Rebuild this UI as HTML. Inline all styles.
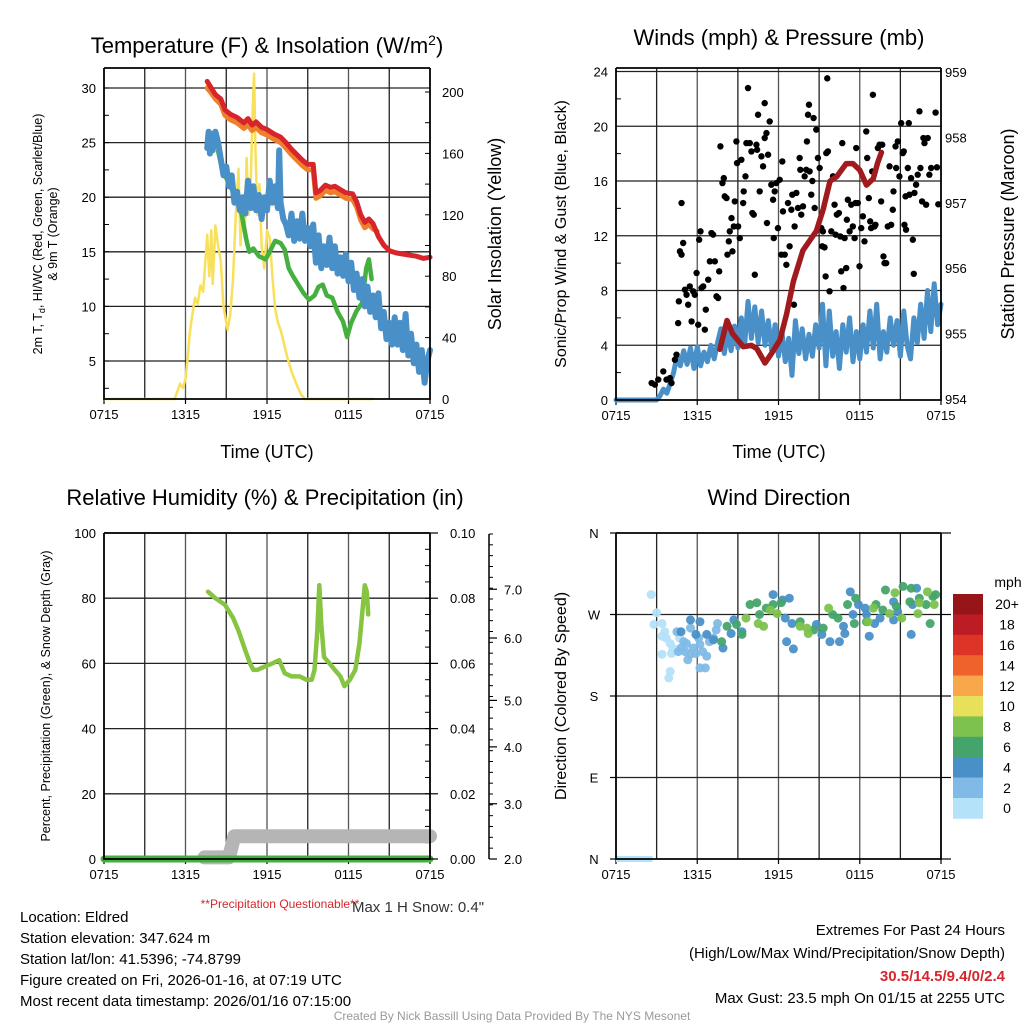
<!DOCTYPE html>
<html><head><meta charset="utf-8"><style>
html,body{margin:0;padding:0;background:#fff;}
svg{display:block;font-family:"Liberation Sans",Arial,sans-serif;}
</style></head><body>
<svg id="chart" width="1024" height="1024" viewBox="0 0 1024 1024" xmlns="http://www.w3.org/2000/svg">
<rect width="1024" height="1024" fill="#fff"/>
<g id="g1"></g>
<g id="g2"></g>
<g id="g3"></g>
<g id="g4"></g>
<g id="gtext">
<text x="267" y="53" font-size="22" text-anchor="middle">Temperature (F) &amp; Insolation (W/m<tspan dy="-8" font-size="14">2</tspan><tspan dy="8">)</tspan></text>
<text x="779" y="45" font-size="22" text-anchor="middle">Winds (mph) &amp; Pressure (mb)</text>
<text x="265" y="505" font-size="22" text-anchor="middle">Relative Humidity (%) &amp; Precipitation (in)</text>
<text x="779" y="505" font-size="22" text-anchor="middle">Wind Direction</text>
<text x="267" y="458" font-size="18" text-anchor="middle">Time (UTC)</text>
<text x="779" y="458" font-size="18" text-anchor="middle">Time (UTC)</text>
<text transform="translate(42,234) rotate(-90)" font-size="12.5" text-anchor="middle">2m T, T<tspan dy="3" font-size="9">d</tspan><tspan dy="-3">, HI/WC (Red, Green, Scarlet/Blue)</tspan></text>
<text transform="translate(57,234) rotate(-90)" font-size="12.5" text-anchor="middle">&amp; 9m T (Orange)</text>
<text transform="translate(501,234) rotate(-90)" font-size="18" text-anchor="middle">Solar Insolation (Yellow)</text>
<text transform="translate(566,234) rotate(-90)" font-size="16" text-anchor="middle">Sonic/Prop Wind &amp; Gust (Blue, Black)</text>
<text transform="translate(1014,234) rotate(-90)" font-size="18" text-anchor="middle">Station Pressure (Maroon)</text>
<text transform="translate(50,696) rotate(-90)" font-size="12.5" text-anchor="middle">Percent, Precipitation (Green), &amp; Snow Depth (Gray)</text>
<text transform="translate(566,696) rotate(-90)" font-size="16" text-anchor="middle">Direction (Colored By Speed)</text>
<text x="280" y="908" font-size="12" fill="#d6262c" text-anchor="middle">**Precipitation Questionable**</text>
<text x="418" y="912" font-size="15" fill="#333" text-anchor="middle">Max 1 H Snow: 0.4"</text>
<text x="20" y="922" font-size="15">Location: Eldred</text>
<text x="20" y="943" font-size="15">Station elevation: 347.624 m</text>
<text x="20" y="964" font-size="15">Station lat/lon: 41.5396; -74.8799</text>
<text x="20" y="985" font-size="15">Figure created on Fri, 2026-01-16, at 07:19 UTC</text>
<text x="20" y="1006" font-size="15">Most recent data timestamp: 2026/01/16 07:15:00</text>
<text x="1005" y="935" font-size="15" text-anchor="end">Extremes For Past 24 Hours</text>
<text x="1005" y="958" font-size="15" text-anchor="end">(High/Low/Max Wind/Precipitation/Snow Depth)</text>
<text x="1005" y="981" font-size="15" font-weight="bold" fill="#d6262c" text-anchor="end">30.5/14.5/9.4/0/2.4</text>
<text x="1005" y="1003" font-size="15" text-anchor="end">Max Gust: 23.5 mph On 01/15 at 2255 UTC</text>
<text x="512" y="1020" font-size="12" fill="#999" text-anchor="middle">Created By Nick Bassill Using Data Provided By The NYS Mesonet</text>
</g>
</svg>
<script>
// ---------- DATA ----------
const timeTicks = ["0715","1315","1915","0115","0715"];
const tempTicks = [5,10,15,20,25,30];
const solarTicks = [0,40,80,120,160,200];
const windTicks = [0,4,8,12,16,20,24];
const presTicks = [954,955,956,957,958,959];
const rhTicks = [0,20,40,60,80,100];
const precipTicks = ["0.00","0.02","0.04","0.06","0.08","0.10"];
const snowTicks = ["2.0","3.0","4.0","5.0","6.0","7.0"];
const snowTickFrac = [0,0.17,0.345,0.488,0.68,0.83];
const dirTicks = ["N","E","S","W","N"];
const speedLabels = ["20+","18","16","14","12","10","8","6","4","2","0"];
const speedColors = ["#951519","#bd1c24","#dc3426","#f0622b","#f8a84a","#e8e05b","#7dc24e","#44a46c","#4a90c8","#7fbbe6","#b4e2f8"];

const tempRed = [[7.6,30.6],[7.8,30.2],[8.2,29.4],[8.6,29.0],[8.9,28.0],[9.3,27.6],[9.8,27.3],[10.3,26.8],[10.6,27.2],[10.9,26.6],[11.2,26.9],[11.6,26.4],[12.0,26.2],[12.5,25.8],[13.0,25.5],[13.4,25.0],[13.8,24.4],[14.2,23.9],[14.6,23.4],[15.0,23.0],[15.4,23.0],[15.6,20.4],[15.9,20.6],[16.3,21.1],[16.7,20.9],[17.0,21.0],[17.4,20.7],[17.8,20.4],[18.3,20.3],[18.6,19.6],[18.9,18.4],[19.2,17.7],[19.5,18.0],[19.8,17.6],[20.2,16.4],[20.6,15.6],[21.0,15.1],[21.5,14.9],[22.0,14.8],[22.5,14.7],[23.0,14.6],[23.5,14.4],[24.0,14.5]];
const tempOrange = [[7.6,30.0],[7.8,29.7],[8.2,29.0],[8.6,28.5],[8.9,27.5],[9.3,27.1],[9.8,26.8],[10.3,26.3],[10.6,26.6],[10.9,26.1],[11.2,26.4],[11.6,25.9],[12.0,25.7],[12.5,25.3],[13.0,25.0],[13.4,24.5],[13.8,23.9],[14.2,23.4],[14.6,22.9],[15.0,22.5],[15.4,22.5],[15.6,19.9],[15.9,20.1],[16.3,20.6],[16.7,20.4],[17.0,20.5],[17.4,20.2],[17.8,19.9],[18.3,19.8],[18.6,19.1],[18.9,17.9],[19.2,17.2],[19.5,17.5],[19.8,17.1],[20.1,16.9]];
const tempBlue = [[7.6,24.5],[7.7,26.0],[7.8,24.0],[7.9,25.8],[8.0,24.3],[8.2,26.0],[8.4,25.0],[8.6,23.5],[8.8,22.0],[9.0,22.8],[9.2,21.0],[9.4,22.0],[9.6,19.5],[9.8,20.5],[10.0,18.8],[10.2,20.0],[10.4,18.5],[10.6,21.5],[10.8,19.0],[11.0,21.0],[11.2,18.8],[11.4,20.2],[11.6,18.0],[11.8,20.0],[12.0,18.8],[12.2,21.5],[12.4,19.5],[12.6,21.0],[12.8,19.0],[12.9,24.3],[13.0,19.5],[13.2,18.0],[13.4,17.5],[13.6,16.5],[13.8,18.5],[14.0,16.0],[14.2,17.8],[14.4,16.2],[14.6,18.5],[14.8,16.0],[15.0,17.2],[15.2,15.5],[15.4,17.5],[15.6,14.0],[15.8,16.5],[16.0,13.5],[16.2,15.5],[16.4,13.8],[16.6,16.3],[16.8,13.5],[17.0,15.5],[17.2,13.0],[17.4,14.5],[17.6,12.8],[17.8,14.8],[18.0,12.3],[18.2,14.0],[18.4,11.5],[18.6,13.0],[18.8,10.8],[19.0,12.5],[19.2,10.0],[19.4,11.8],[19.6,9.5],[19.8,11.0],[20.0,9.0],[20.2,11.2],[20.4,8.0],[20.6,9.5],[20.8,7.0],[21.0,8.5],[21.2,6.5],[21.4,9.0],[21.6,6.5],[21.8,8.5],[22.0,6.0],[22.2,9.3],[22.4,5.5],[22.6,7.5],[22.8,4.8],[23.0,6.5],[23.2,4.0],[23.4,6.0],[23.6,3.0],[23.8,5.0],[24.0,6.0]];
const dewGreen = [[8.4,24.2],[8.7,22.5],[9.1,21.5],[9.5,20.5],[9.9,19.8],[10.2,18.0],[10.5,16.0],[10.7,15.0],[11.0,15.3],[11.4,14.6],[11.9,14.3],[12.2,15.0],[12.6,16.0],[13.0,15.8],[13.3,15.2],[13.6,13.5],[13.9,12.8],[14.3,12.0],[14.7,11.2],[15.1,10.6],[15.5,11.0],[15.8,11.8],[16.1,12.0],[16.4,11.0],[16.8,10.8],[17.2,9.5],[17.6,8.6],[17.9,7.2],[18.2,8.5],[18.6,9.6],[19.0,10.3],[19.3,13.5],[19.5,14.3],[19.7,12.5]];
const solarYellow = [[0,0],[5.2,0],[5.4,5],[5.6,10],[5.8,7],[6.0,13],[6.2,30],[6.3,42],[6.5,55],[6.7,66],[6.9,62],[7.1,74],[7.3,70],[7.6,107],[7.75,80],[7.9,110],[8.0,75],[8.2,113],[8.4,100],[8.6,90],[8.8,60],[9.1,45],[9.3,55],[9.5,78],[9.7,120],[9.9,150],[10.05,100],[10.2,130],[10.35,105],[10.5,157],[10.65,120],[10.8,140],[10.95,190],[11.05,212],[11.15,160],[11.3,120],[11.45,140],[11.6,100],[11.8,85],[12.0,110],[12.2,105],[12.4,80],[12.6,59],[12.8,50],[13.0,45],[13.2,38],[13.5,27],[13.8,18],[14.2,9],[14.5,3],[14.8,0],[19.8,0]];

const windStep = 0.25;
const windSonic = [0,0,0,0,0,0,0,0,0,0,0,0,0,0.3,0.8,0.5,1.2,2.0,3.2,2.5,3.6,2.6,3.8,2.3,3.9,2.5,3.5,2.8,4.0,3.0,4.2,5.2,3.4,5.0,3.6,5.4,3.8,6.0,4.0,7.2,4.5,6.8,4.2,6.5,4.0,5.8,3.6,5.5,3.2,5.0,2.8,4.5,1.8,5.8,3.4,5.2,3.0,4.8,3.2,5.5,3.8,7.0,2.5,6.5,3.2,5.0,2.3,5.5,3.5,6.0,2.8,5.0,3.0,5.5,3.5,6.5,3.8,7.0,3.0,5.0,3.5,6.0,4.0,5.8,3.2,6.5,4.0,3.0,6.0,4.2,7.0,4.5,8.0,5.0,8.5,5.5,7.0];
const pressure = [[7.67,954.76],[8.2,955.2],[8.6,955.0],[9.4,954.8],[10.0,954.82],[10.4,954.77],[11.0,954.55],[11.5,954.7],[12.1,954.9],[12.6,955.3],[13.1,955.8],[13.8,956.27],[14.8,956.57],[15.3,956.9],[15.8,957.33],[16.3,957.4],[17.0,957.6],[17.5,957.6],[18.0,957.5],[18.5,957.27],[19.0,957.37],[19.3,957.6],[19.6,957.77]];
const gustHours = [2.63,2.87,3.12,3.49,3.73,3.98,4.10,4.35,4.47,4.59,4.64,4.72,4.84,4.84,4.96,5.09,5.21,5.33,5.45,5.58,5.70,5.82,5.95,6.07,6.14,6.24,6.31,6.44,6.56,6.63,6.81,6.93,7.05,7.17,7.30,7.42,7.54,7.62,7.71,7.86,7.96,8.03,8.16,8.23,8.33,8.40,8.53,8.60,8.70,8.77,8.89,8.94,9.02,9.14,9.26,9.39,9.43,9.56,9.63,9.75,9.88,10.0,10.07,10.17,10.25,10.37,10.42,10.49,10.61,10.74,10.86,10.98,10.98,11.11,11.15,11.23,11.35,11.47,11.6,11.65,11.72,11.84,11.96,12.09,12.21,12.28,12.33,12.46,12.58,12.7,12.82,12.95,13.02,13.14,13.19,13.32,13.44,13.56,13.61,13.68,13.81,13.93,14.05,14.1,14.18,14.25,14.3,14.42,14.5,14.59,14.67,14.79,14.91,15.04,15.16,15.23,15.28,15.4,15.48,15.53,15.6,15.65,15.77,15.9,16.02,16.14,16.22,16.31,16.46,16.56,16.63,16.71,16.8,16.88,17.0,17.05,17.12,17.25,17.37,17.49,17.62,17.69,17.74,17.86,17.98,18.11,18.23,18.35,18.48,18.55,18.67,18.77,18.84,18.92,18.97,19.09,19.16,19.34,19.46,19.58,19.66,19.75,19.83,19.95,20.07,20.2,20.32,20.44,20.49,20.64,20.69,20.81,20.93,21.06,21.18,21.25,21.3,21.38,21.42,21.55,21.62,21.67,21.79,21.92,21.99,22.04,22.16,22.28,22.41,22.48,22.6,22.7,22.78,22.9,23.02,23.14,23.27,23.6,23.7,23.8];
const gustSpeeds = [1.24,1.12,1.49,2.09,1.49,1.6,1.24,2.94,3.31,5.62,7.21,10.86,10.62,14.39,11.47,8.06,7.69,6.96,8.3,5.74,7.94,7.69,9.28,5.5,11.71,12.32,8.18,8.3,5.14,6.6,8.79,10.13,12.2,12.08,10.13,7.57,7.45,9.4,18.53,15.85,16.21,14.88,14.75,10.62,11.59,12.32,13.29,10.86,12.68,14.51,18.89,17.31,12.68,11.83,17.55,14.39,15.24,16.34,18.77,22.79,18.77,18.16,13.66,13.54,9.15,18.65,18.28,20.84,15.24,17.8,17.07,21.69,19.14,19.5,12.93,17.92,20.35,15.73,14.63,11.83,15.24,15.85,12.56,16.09,10.62,17.43,13.78,10.62,9.88,14.39,11.23,13.9,15.0,6.96,12.68,15.13,14.03,17.68,16.82,13.54,14.15,16.34,16.82,18.89,20.84,21.57,16.7,15.0,16.0,20.6,14.03,19.75,17.68,16.95,12.56,11.23,12.32,11.15,9.03,18.04,23.5,18.16,7.94,12.32,16.34,14.27,12.08,13.54,13.66,11.95,9.4,18.77,8.18,11.83,9.64,13.17,14.63,12.32,14.27,12.68,11.83,14.39,18.41,14.39,9.77,12.56,13.42,11.59,19.62,17.68,14.75,13.05,12.56,16.7,22.3,12.68,12.8,18.41,18.65,14.51,18.65,10.49,10.0,10.0,12.68,17.07,12.8,13.9,15.24,18.53,16.95,18.89,16.34,20.23,18.04,18.16,12.8,14.88,12.44,16.95,20.23,15.0,16.21,11.71,9.22,15.13,15.73,16.46,21.09,16.95,14.51,19.14,18.77,14.27,19.14,16.46,16.95,21.0,17.0,14.3];

const rhGreen = [[7.66,82],[8.2,80],[8.9,78],[9.5,74],[9.9,70],[10.4,64],[10.75,60],[11.0,58],[11.3,58],[11.8,59],[12.4,60],[12.9,61],[13.3,57],[13.8,56],[14.4,56],[14.9,55],[15.3,55],[15.5,58],[15.7,70],[15.85,84],[16.0,72],[16.2,62],[16.6,60],[17.0,58],[17.4,56],[17.7,53],[18.1,55],[18.5,58],[18.8,66],[19.0,75],[19.2,84],[19.35,82],[19.45,75]];
const snowGray = [[7.4,0.5],[9.2,0.5],[9.6,7],[24,7]];
const precipLine = [[0,0],[24,0]];

const dirHours = [2.6,3.0,2.8,3.4,3.6,3.4,3.7,4.0,3.4,4.1,4.0,3.9,4.2,4.7, 4.5,5.0,4.8,5.2,5.1,5.3,5.5,5.7,5.9,6.2,6.4,6.6,6.7,6.9,7.2,7.4,7.5,6.2,6.1,5.5,4.6, 4.8,5.5,6.2,5.9,6.7,7.2,7.9,8.5,8.7,9.3,11.6,12.3,12.8,12.5,13.0,12.6,13.1,14.8,15.2,15.8,16.5,16.8,16.9,17.3,17.5,17.9,18.4,18.7,19.1,19.5,20.5,20.8,21.8,22.2,21.9,20.5,18.5, 7.8,8.2,8.9,9.3,9.9,10.4,10.6,11.1,11.6,12.2,13.6,14.6,15.3,16.0,16.4,17.7,17.1,17.6,18.5,19.2,19.7,19.9,20.7,21.2,21.8,22.4,22.9,23.4,23.6,23.2,21.7, 9.6,10.5,10.9,11.4,11.9,13.6,14.2,14.1,15.7,18.6,19.0,20.2,20.6,21.1,22.4,23.0,23.5,22.3];
const dirDegrees = [292,272,259,260,251,246,244,238,226,227,207,200,233,244, 251,240,233,238,229,220,226,233,227,237,229,211,224,240,244,253,260,211,244,255,229, 251,264,262,248,248,242,233,249,264,251,292,286,288,266,260,240,232,259,248,240,240,257,249,295,270,281,277,246,260,266,264,273,248,299,281,284,270, 240,257,259,248,281,283,270,277,281,283,262,253,255,270,266,288,281,260,262,281,275,297,279,301,299,288,281,290,292,260,284, 266,260,257,275,271,257,249,255,277,262,277,271,294,266,283,295,281,271];
const dirSpeeds = [1,1,1,1,1,1,1,1,1,1,1,1,1,1, 3,3,3,3,3,3,3,3,3,3,3,3,3,3,3,3,3,3,3,3,3, 5,5,5,5,5,5,5,5,5,5,5,5,5,5,5,5,5,5,5,5,5,5,5,5,5,5,5,5,5,5,5,5,5,5,5,5,5, 7,7,7,7,7,7,7,7,7,7,7,7,7,7,7,7,7,7,7,7,7,7,7,7,7,7,7,7,7,7,7, 9,9,9,9,9,9,9,9,9,9,9,9,9,9,9,9,9,9];
const calmHours = [0,2.7];

// ---------- HELPERS ----------
const NS = "http://www.w3.org/2000/svg";
function mk(parent, tag, attrs){ const e=document.createElementNS(NS,tag); for(const k in attrs) e.setAttribute(k,attrs[k]); parent.appendChild(e); return e; }
function lin(d0,d1,r0,r1){ return v=>r0+(v-d0)*(r1-r0)/(d1-d0); }
function pathOf(pts,fx,fy){ return pts.map((p,i)=>(i?"L":"M")+fx(p[0]).toFixed(1)+","+fy(p[1]).toFixed(1)).join(""); }

function frame(g, L, R, T, B, xs, hTicks){
  for(let h=3; h<24; h+=3){
    const gl = mk(g,"line",{x1:xs(h),x2:xs(h),y1:T,y2:B,stroke:(h%6===0?"#555":"#222"),"stroke-width":1.3});
    
    
  }
  hTicks.forEach(y=>{
    const hl = mk(g,"line",{x1:L,x2:R,y1:y,y2:y,stroke:"#222","stroke-width":1.3});
    
    
  });
  timeTicks.forEach((t,i)=>{
    const x = xs(i*6);
    const tx = mk(g,"text",{x:x,y:B+20,"font-size":13,"text-anchor":"middle"}); tx.textContent=t;
    
    
    mk(g,"line",{x1:x,x2:x,y1:B,y2:B+5,stroke:"#000","stroke-width":1.2});
  });
}
function axisBox(g,L,R,T,B){
  const ax = mk(g,"path",{d:`M${L},${T}V${B}H${R}V${T}`,fill:"none",stroke:"#000","stroke-width":1.8});
  
  
  mk(g,"line",{x1:L,x2:R,y1:T,y2:T,stroke:"#000","stroke-width":1.8});
}
function yLabels(g, vals, fy, x, anchor, name){
  vals.forEach(v=>{
    const y = fy(v);
    const t = mk(g,"text",{x:x,y:y+5,"font-size":13,"text-anchor":anchor}); t.textContent = v;
    
    
  });
}
function line(g,pts,fx,fy,color,w,name){
  const p = mk(g,"path",{d:pathOf(pts,fx,fy),fill:"none",stroke:color,"stroke-width":w,"stroke-linejoin":"round","stroke-linecap":"round"});
  
  
  return p;
}

// ---------- PANEL 1 ----------
(function(){
  const g=document.getElementById("g1");
  const L=104,R=430,T=68,B=399;
  const xs=lin(0,24,L,R), yT=lin(30,5,88,361), yS=lin(0,200,399,92);
  frame(g,L,R,T,B,xs,tempTicks.map(yT));
  for(let v=2.5; v<=31; v+=2.5){ mk(g,"line",{x1:L,x2:L+5,y1:yT(v),y2:yT(v),stroke:"#000"}); }
  for(let v=0; v<=210; v+=20){ mk(g,"line",{x1:R-5,x2:R,y1:yS(v),y2:yS(v),stroke:"#000"}); }
  line(g,solarYellow,xs,yS,"#f8e05a",2.5,"solar-insolation-line");
  line(g,dewGreen,xs,yT,"#45b03f",4.5,"dewpoint-line");
  line(g,tempBlue,xs,yT,"#4a90c8",6,"windchill-line");
  line(g,tempOrange,xs,yT,"#f07f2b",5,"temp-9m-line");
  line(g,tempRed,xs,yT,"#d6262c",5,"temp-2m-line");
  axisBox(g,L,R,T,B);
  yLabels(g,tempTicks,yT,L-8,"end","temp-tick-label");
  yLabels(g,solarTicks,yS,R+12,"start","solar-tick-label");
})();

// ---------- PANEL 2 ----------
(function(){
  const g=document.getElementById("g2");
  const L=616,R=941,T=68,B=400;
  const xs=lin(0,24,L,R), yW=lin(0,24,400,71.5), yP=lin(954,959,399,72);
  frame(g,L,R,T,B,xs,windTicks.slice(1).map(yW));
  for(let v=2; v<=24; v+=4){ mk(g,"line",{x1:L,x2:L+5,y1:yW(v),y2:yW(v),stroke:"#000"}); }
  const sonicPts = windSonic.map((v,i)=>[i*windStep,v]);
  line(g,sonicPts,xs,yW,"#4a90c8",5,"sonic-wind-line");
  gustHours.forEach((h,i)=>{
    const c = mk(g,"circle",{cx:xs(h),cy:yW(gustSpeeds[i]),r:3.2,fill:"#000"});
    
    
  });
  line(g,pressure,xs,yP,"#a01a1e",5.5,"pressure-line");
  axisBox(g,L,R,T,B);
  yLabels(g,windTicks,yW,L-8,"end","wind-tick-label");
  yLabels(g,presTicks,yP,R+4,"start","pressure-tick-label");
})();

// ---------- PANEL 3 ----------
(function(){
  const g=document.getElementById("g3");
  const L=104,R=430,T=533,B=859;
  const xs=lin(0,24,L,R), yR=lin(0,100,859,533);
  frame(g,L,R,T,B,xs,rhTicks.slice(1).map(yR));
  for(let v=0; v<=100; v+=5){ mk(g,"line",{x1:R-5,x2:R,y1:yR(v),y2:yR(v),stroke:"#000"}); }
  line(g,snowGray,xs,yR,"#b5b5b5",14,"snow-depth-line");
  line(g,precipLine,xs,yR,"#45b03f",7,"precipitation-line");
  line(g,rhGreen,xs,yR,"#86c442",4.5,"relative-humidity-line");
  axisBox(g,L,R,T,B);
  yLabels(g,rhTicks,yR,L-8,"end","rh-tick-label");
  precipTicks.forEach((t,i)=>{
    const y=yR(i*20);
    mk(g,"line",{x1:R,x2:R+8,y1:y,y2:y,stroke:"#000","stroke-width":1.2});
    const tx=mk(g,"text",{x:R+20,y:y+5,"font-size":13}); tx.textContent=t;
    
    
  });
  const sx=489, sTop=534, sBot=859;
  const sa = mk(g,"line",{x1:sx,x2:sx,y1:sTop,y2:sBot,stroke:"#000","stroke-width":1.5});
  
  
  for(let k=0;k<=30;k++){ const y=sTop+k*(sBot-sTop)/30; mk(g,"line",{x1:sx,x2:sx+4,y1:y,y2:y,stroke:"#000"}); }
  snowTicks.forEach((t,i)=>{
    const y=sBot-snowTickFrac[i]*(sBot-sTop);
    mk(g,"line",{x1:sx,x2:sx+8,y1:y,y2:y,stroke:"#000","stroke-width":1.2});
    const tx=mk(g,"text",{x:sx+15,y:y+5,"font-size":13}); tx.textContent=t;
    
    
  });
})();

// ---------- PANEL 4 ----------
(function(){
  const g=document.getElementById("g4");
  const L=616,R=941,T=533,B=859;
  const xs=lin(0,24,L,R), yD=lin(0,360,859,533);
  frame(g,L,R,T,B,xs,[90,180,270].map(yD));
  const cl = mk(g,"line",{x1:xs(calmHours[0]),x2:xs(calmHours[1]),y1:yD(0),y2:yD(0),stroke:"#b4e2f8","stroke-width":6});
  
  
  dirHours.forEach((h,i)=>{
    const idx = 10-Math.min(10,Math.floor(dirSpeeds[i]/2));
    const c=mk(g,"circle",{cx:xs(h),cy:yD(dirDegrees[i]),r:4.5,fill:speedColors[idx],"fill-opacity":0.95});
    
    
  });
  axisBox(g,L,R,T,B);
  [0,90,180,270,360].forEach((d,i)=>{
    const y=yD(d);
    mk(g,"line",{x1:R,x2:R+10,y1:y,y2:y,stroke:"#000","stroke-width":1.2});
    mk(g,"line",{x1:L-6,x2:L,y1:y,y2:y,stroke:"#000","stroke-width":1.2});
    const t=mk(g,"text",{x:L-22,y:y+5,"font-size":13,"text-anchor":"middle"}); t.textContent=dirTicks[i];
    
    
  });
  const cbx=953, cbTop=594, cbH=20.4;
  const ttl=mk(g,"text",{x:1008,y:587,"font-size":14,"text-anchor":"middle"}); ttl.textContent="mph";
  
  
  speedColors.forEach((c,i)=>{
    const r=mk(g,"rect",{x:cbx,y:cbTop+i*cbH,width:30,height:cbH+0.3,fill:c});
    
    
    const t=mk(g,"text",{x:1007,y:cbTop+i*cbH+cbH/2+5,"font-size":14,"text-anchor":"middle"}); t.textContent=speedLabels[i];
    
    
  });
})();
</script>
</body></html>
